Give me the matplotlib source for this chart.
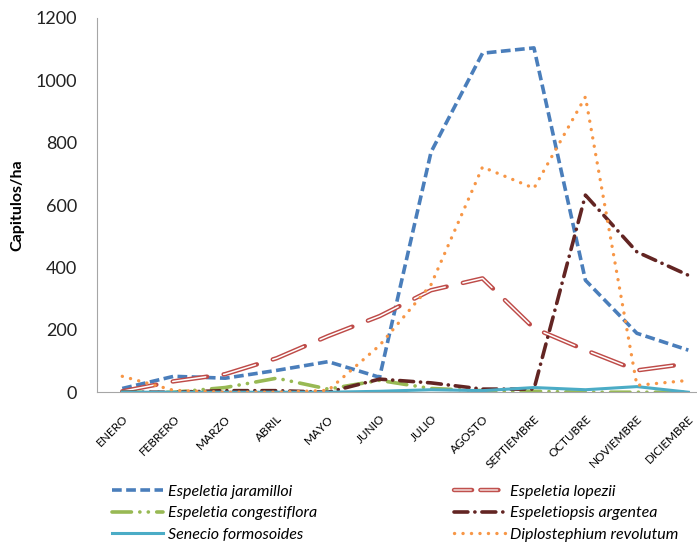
import matplotlib
matplotlib.use('Agg')
import matplotlib.pyplot as plt
from matplotlib.lines import Line2D
from matplotlib.legend_handler import HandlerTuple

plt.rcParams['font.family'] = ['Lato', 'DejaVu Sans']
plt.rcParams['lines.scale_dashes'] = False

meses = ['ENERO', 'FEBRERO', 'MARZO', 'ABRIL', 'MAYO', 'JUNIO', 'JULIO',
         'AGOSTO', 'SEPTIEMBRE', 'OCTUBRE', 'NOVIEMBRE', 'DICIEMBRE']

jaramilloi = [12, 51, 45, 70, 98, 48, 770, 1087, 1104, 359, 189, 135]
lopezii = [3, 35, 58, 109, 180, 244, 327, 365, 205, 135, 70, 92]
congestiflora = [0, 0, 15, 45, 10, 38, 12, 5, 3, 0, 0, 0]
argentea = [0, 0, 5, 5, 0, 42, 30, 10, 10, 632, 450, 375]
senecio = [0, 0, 0, 0, 0, 3, 8, 5, 15, 8, 18, 0]
diplostephium = [51, 6, 0, 0, 6, 150, 345, 722, 654, 947, 22, 38]

x = list(range(len(meses)))

fig = plt.figure(figsize=(6.97, 5.44), dpi=100)
ax = fig.add_axes([0.1385, 0.279, 0.886, 0.688])

l1, = ax.plot(x, jaramilloi, color='#4a7ebb', lw=2.6, dashes=(7, 3.2),
              solid_joinstyle='miter')
ax.plot(x, lopezii, color='#be4b48', lw=3.2, dashes=(25, 12),
        dash_capstyle='round')
ax.plot(x, lopezii, color='white', lw=1.1, dashes=(24, 13),
        dash_capstyle='round')
l3, = ax.plot(x, congestiflora, color='#98b954', lw=2.6,
              dashes=(14, 6, 0.1, 6, 0.1, 6), dash_capstyle='round')
l4, = ax.plot(x, argentea, color='#632523', lw=2.6,
              dashes=(10, 5, 0.1, 5), dash_capstyle='round')
l5, = ax.plot(x, senecio, color='#4bacc6', lw=2.2)
l6, = ax.plot(x, diplostephium, color='#f79646', lw=2.4,
              dashes=(0.1, 6), dash_capstyle='round')

# legend proxy for the double line
p2a = Line2D([], [], color='#c0504d', lw=3.2, dashes=(13, 6), dash_capstyle='round')
p2b = Line2D([], [], color='#f2dcdb', lw=1.1, dashes=(12.4, 6.6), dash_capstyle='round')

ax.set_xlim(-0.5, 11.5)
ax.set_ylim(0, 1200)
ax.set_yticks(range(0, 1201, 200))
ax.set_xticks(x)
ax.set_xticklabels(meses, rotation=45, ha='right', rotation_mode='anchor',
                   fontsize=8.5)
ax.tick_params(axis='y', length=0, pad=14, labelsize=13, labelcolor='#222222')
ax.tick_params(axis='x', length=0, pad=15)
for s in ['top', 'right']:
    ax.spines[s].set_visible(False)
for s in ['left', 'bottom']:
    ax.spines[s].set_color('#a6a6a6')
ax.set_ylabel('Capitulos/ha', fontsize=11.5, fontweight='bold', labelpad=8)

handles = [l1, l3, l5, (p2a, p2b), l4, l6]
labels = ['Espeletia jaramilloi', 'Espeletia congestiflora', 'Senecio formosoides',
          'Espeletia lopezii', 'Espeletiopsis argentea', 'Diplostephium revolutum']
leg = fig.legend(handles, labels, ncol=2, loc='lower left',
                 bbox_to_anchor=(0.14, -0.022), frameon=False,
                 handlelength=3.2, handletextpad=0.3, columnspacing=8.6,
                 labelspacing=0.45, prop={'style': 'italic', 'size': 11.5},
                 handler_map={tuple: HandlerTuple(ndivide=1, pad=0)})

fig.savefig('out.png', dpi=100)
